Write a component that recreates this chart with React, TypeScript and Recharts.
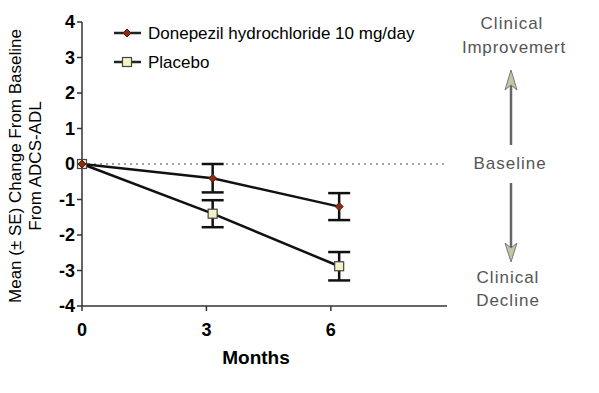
import { LineChart, Line, XAxis, YAxis, ErrorBar, ReferenceLine, Customized } from "recharts"

const donepezilMonths = [0, 3.15, 6.2]
const donepezilMean = [0, -0.4, -1.2]
const donepezilSE = [null, 0.4, 0.38]

const placeboMonths = [0, 3.15, 6.2]
const placeboMean = [0, -1.4, -2.88]
const placeboSE = [null, 0.38, 0.4]

const xTicks = [0, 3, 6]
const yTicks = [-4, -3, -2, -1, 0, 1, 2, 3, 4]

const seriesNames = ["Donepezil hydrochloride 10 mg/day", "Placebo"]

const donepezilData = donepezilMonths.map((m, i) => ({ month: m, value: donepezilMean[i], se: donepezilSE[i] }))
const placeboData = placeboMonths.map((m, i) => ({ month: m, value: placeboMean[i], se: placeboSE[i] }))

const font = "Arial, 'Liberation Sans', sans-serif"

function Diamond(props: any) {
  const { cx, cy } = props
  if (cx == null || cy == null) return null
  return <path d={`M${cx},${cy - 4} L${cx + 4},${cy} L${cx},${cy + 4} L${cx - 4},${cy} Z`} fill="#8b2a1a" stroke="#5a1a10" strokeWidth={1} />
}

function Square(props: any) {
  const { cx, cy } = props
  if (cx == null || cy == null) return null
  return <rect x={cx - 4.5} y={cy - 4.5} width={9} height={9} fill="#f4f2c6" stroke="#444" strokeWidth={1.2} />
}

function Annotations() {
  const gray = "#555"
  return (
    <g fontFamily={font} fontSize={17} fill={gray}>
      {/* legend */}
      <line x1={114} y1={33} x2={141} y2={33} stroke="#222" strokeWidth={2.5} />
      <Diamond cx={127} cy={33} />
      <text x={148} y={39} fill="#000" fontSize={17}>{seriesNames[0]}</text>
      <line x1={114} y1={62} x2={141} y2={62} stroke="#222" strokeWidth={2.5} />
      <Square cx={127} cy={62} />
      <text x={148} y={68} fill="#000" fontSize={17}>{seriesNames[1]}</text>

      {/* right side labels */}
      <text x={512} y={29} textAnchor="middle" letterSpacing={1}>Clinical</text>
      <text x={514} y={53} textAnchor="middle" letterSpacing={0.8}>Improvemert</text>
      <line x1={511} y1={145} x2={511} y2={82} stroke="#666" strokeWidth={2.5} />
      <path d="M505,90 L511,70 L517,90 L511,85 Z" fill="#c4c4a8" stroke="#777" strokeWidth={1} />
      <text x={510} y={169} textAnchor="middle" letterSpacing={1}>Baseline</text>
      <line x1={511} y1={183} x2={511} y2={250} stroke="#666" strokeWidth={2.5} />
      <path d="M505,243 L511,262 L517,243 L511,248 Z" fill="#c4c4a8" stroke="#777" strokeWidth={1} />
      <text x={508} y={283} textAnchor="middle" letterSpacing={1}>Clinical</text>
      <text x={508} y={306} textAnchor="middle" letterSpacing={1}>Decline</text>

      {/* axis titles */}
      <text x={256} y={364} textAnchor="middle" fill="#000" fontSize={19} fontWeight="bold">Months</text>
      <g transform="translate(21,166) rotate(-90)">
        <text x={0} y={0} textAnchor="middle" fill="#000" fontSize={17}>Mean (± SE) Change From Baseline</text>
        <text x={0} y={20} textAnchor="middle" fill="#000" fontSize={17}>From ADCS-ADL</text>
      </g>
    </g>
  )
}

export default function App() {
  return (
    <div style={{ position: "fixed", left: 0, top: 0, width: 599, height: 393, background: "#fff" }}>
      <LineChart width={599} height={393} margin={{ top: 22, right: 152, bottom: 57, left: 32 }}>
        <XAxis
          type="number"
          dataKey="month"
          domain={[0, 8.8]}
          ticks={xTicks}
          allowDuplicatedCategory={false}
          stroke="#333"
          strokeWidth={1.5}
          tickSize={5}
          tick={{ fill: "#000", fontSize: 18, fontWeight: "bold", fontFamily: font, dy: 10 }}
        />
        <YAxis
          type="number"
          domain={[-4, 4]}
          ticks={yTicks}
          width={50}
          stroke="#333"
          strokeWidth={1.5}
          tickSize={5}
          tick={{ fill: "#000", fontSize: 18, fontWeight: "bold", fontFamily: font }}
        />
        <ReferenceLine y={0} stroke="#444" strokeDasharray="2 4" segment={[{ x: 0, y: 0 }, { x: 8.6, y: 0 }]} />
        <Line
          data={placeboData}
          dataKey="value"
          stroke="#111"
          strokeWidth={2.5}
          dot={<Square />}
          isAnimationActive={false}
        >
          <ErrorBar dataKey="se" width={11} stroke="#111" strokeWidth={2.5} />
        </Line>
        <Line
          data={donepezilData}
          dataKey="value"
          stroke="#111"
          strokeWidth={2.5}
          dot={<Diamond />}
          isAnimationActive={false}
        >
          <ErrorBar dataKey="se" width={11} stroke="#111" strokeWidth={2.5} />
        </Line>
        <Customized component={Annotations} />
      </LineChart>
    </div>
  )
}
